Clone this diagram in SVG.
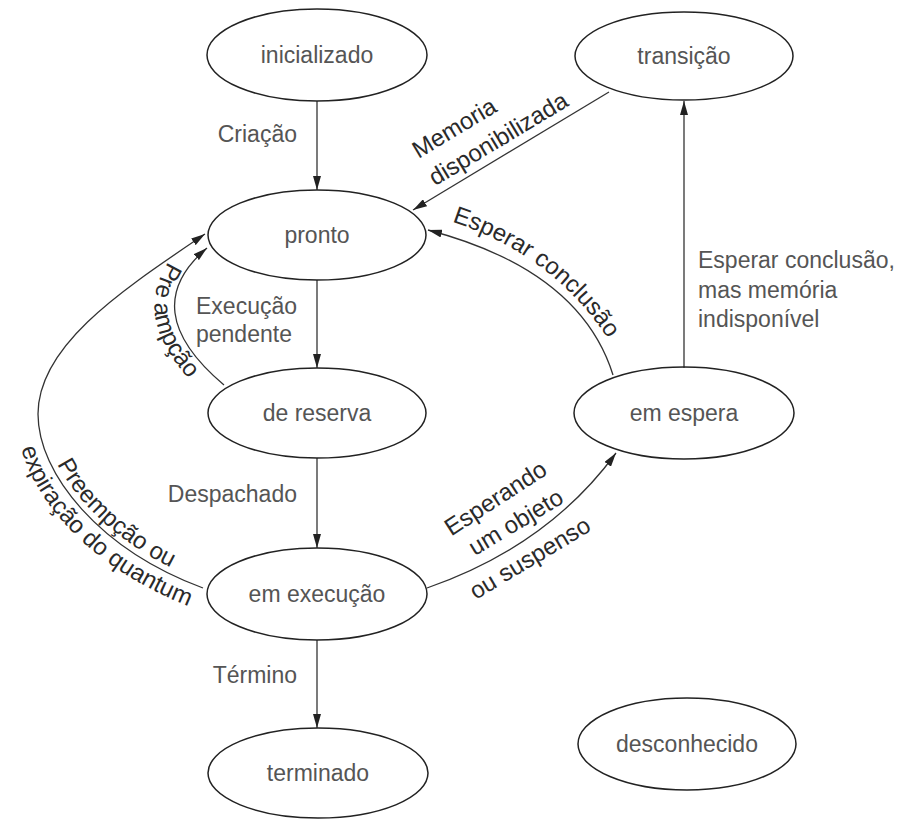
<svg xmlns="http://www.w3.org/2000/svg" xmlns:xlink="http://www.w3.org/1999/xlink" width="901" height="822" viewBox="0 0 901 822">
  <style>
    .node ellipse { fill: none; stroke: #222; stroke-width: 1.5; }
    .nl { font-family: "Liberation Sans", Arial, sans-serif; font-size: 23px; fill: #555; text-anchor: middle; }
    .el { font-family: "Liberation Sans", Arial, sans-serif; font-size: 23px; fill: #555; }
    .rl { font-family: "Liberation Sans", Arial, sans-serif; font-size: 24px; fill: #2a2a2a; }
    .edge { fill: none; stroke: #333; stroke-width: 1.3; marker-end: url(#arr); }
  </style>
  <defs>
    <marker id="arr" viewBox="0 0 14 8" refX="14" refY="4" markerWidth="14" markerHeight="8" markerUnits="userSpaceOnUse" orient="auto">
      <path d="M0,0 L14,4 L0,8 Z" fill="#222"/>
    </marker>
    <!-- baselines for the curved labels -->
    <path id="tp-pre" d="M 194.1,232.7 Q 107.4,309.5 211.1,400.3"/>
    <path id="tp-preem-in" d="M 44,414 C 44,472 105.3,545.2 205.1,582.4 L 240,595"/>
    <path id="tp-preem-out" d="M 16,414 C 16,482 78.5,565.2 195.3,608.7 L 240,625"/>
    <path id="tp-espc" d="M 450,221 Q 556,255.5 612,345 L 630,375"/>
  </defs>

  <rect width="901" height="822" fill="#fff"/>

  <!-- connectors -->
  <g id="edges">
    <path class="edge" d="M 317,101 L 317,190"/>
    <path class="edge" d="M 609,92 L 413,210"/>
    <path class="edge" d="M 317,280 L 317,368"/>
    <path class="edge" d="M 224,385 Q 134.5,309.5 207,248"/>
    <path class="edge" d="M 317,458 L 317,548"/>
    <path class="edge" d="M 203,588 C 99.6,549.5 38,474 38,414 C 38,344 125.75,287.85 205,234"/>
    <path class="edge" d="M 427,588 Q 548,546 616,453"/>
    <path class="edge" d="M 613,375 Q 580,270 428,230"/>
    <path class="edge" d="M 684,368 L 684,101"/>
    <path class="edge" d="M 317,640 L 317,728"/>
  </g>

  <!-- connector labels -->
  <g id="edge-labels">
    <text class="el" x="297" y="142" text-anchor="end">Criação</text>
    <text class="el" x="196" y="314">Execução</text>
    <text class="el" x="196" y="342">pendente</text>
    <text class="el" x="297" y="502" text-anchor="end">Despachado</text>
    <text class="el" x="297" y="683" text-anchor="end">Término</text>
    <text class="el" x="698" y="268">Esperar conclusão,</text>
    <text class="el" x="698" y="298">mas memória</text>
    <text class="el" x="698" y="327">indisponível</text>

    <g transform="translate(413,210) rotate(-31)">
      <text class="rl" x="31" y="-41">Memoria</text>
      <text class="rl" x="31" y="-9">disponibilizada</text>
    </g>

    <text class="rl" font-size="25"><textPath xlink:href="#tp-espc" startOffset="2">Esperar conclusão</textPath></text>
    <text class="rl" font-size="25" text-anchor="middle"><textPath xlink:href="#tp-pre" startOffset="52%">Pre ampção</textPath></text>
    <text class="rl" font-size="25"><textPath xlink:href="#tp-preem-in" startOffset="52">Preempção ou</textPath></text>
    <text class="rl" font-size="25"><textPath xlink:href="#tp-preem-out" startOffset="35">expiração do quantum</textPath></text>

    <text class="rl" text-anchor="middle" transform="translate(500,505) rotate(-33)">Esperando</text>
    <text class="rl" text-anchor="middle" transform="translate(520,529) rotate(-31)">um objeto</text>
    <text class="rl" text-anchor="middle" transform="translate(534,565) rotate(-31)">ou suspenso</text>
  </g>

  <!-- states -->
  <g id="n-inicializado" class="node">
    <ellipse cx="317" cy="55" rx="110" ry="46"/>
    <text class="nl" x="317" y="63">inicializado</text>
  </g>
  <g id="n-transicao" class="node">
    <ellipse cx="684" cy="56" rx="109" ry="44"/>
    <text class="nl" x="684" y="64">transição</text>
  </g>
  <g id="n-pronto" class="node">
    <ellipse cx="317" cy="235" rx="109" ry="45"/>
    <text class="nl" x="317" y="243">pronto</text>
  </g>
  <g id="n-de-reserva" class="node">
    <ellipse cx="317" cy="413" rx="109" ry="45"/>
    <text class="nl" x="317" y="421">de reserva</text>
  </g>
  <g id="n-em-espera" class="node">
    <ellipse cx="684" cy="413" rx="110" ry="46"/>
    <text class="nl" x="684" y="421">em espera</text>
  </g>
  <g id="n-em-execucao" class="node">
    <ellipse cx="317" cy="594" rx="110" ry="46"/>
    <text class="nl" x="317" y="602">em execução</text>
  </g>
  <g id="n-terminado" class="node">
    <ellipse cx="318" cy="773" rx="110" ry="45"/>
    <text class="nl" x="318" y="781">terminado</text>
  </g>
  <g id="n-desconhecido" class="node">
    <ellipse cx="687" cy="744" rx="109" ry="46"/>
    <text class="nl" x="687" y="752">desconhecido</text>
  </g>
</svg>
